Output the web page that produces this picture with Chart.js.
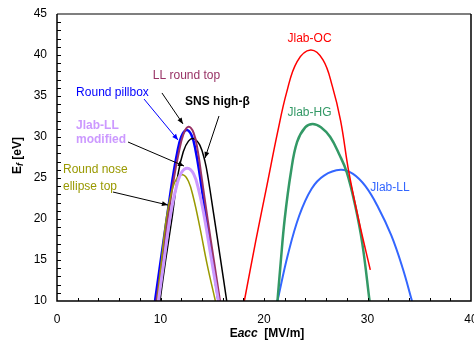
<!DOCTYPE html>
<html>
<head>
<meta charset="utf-8">
<script src="https://cdn.jsdelivr.net/npm/chart.js@4"></script>
<style>
html,body{margin:0;padding:0;background:#fff;}
#wrap{width:474px;height:344px;}
</style>
</head>
<body>
<div id="wrap"><canvas id="c" width="474" height="344"></canvas></div>
<script>
// ---- data (Eacc in MV/m, Ef in eV) ----
const pillboxE   = [9.47,10.03,10.6,11.18,11.6,12.0,12.5,13.0,13.4,13.8,14.42,15.0,15.6];
const pillboxEf  = [10,15,20,25,28,30,30.85,30.2,28.3,25.3,20,15,10];

const llRoundE   = [9.6,10.15,10.7,11.3,11.75,12.2,12.7,13.2,13.6,13.95,14.55,15.15,15.75];
const llRoundEf  = [10,15,20,25,28,30.3,31.25,30.5,28.3,25.3,20,15,10];

const snsE       = [9.95,10.5,11.1,11.7,12.2,12.7,13.2,13.8,14.3,14.6,15.15,15.75,16.4];
const snsEf      = [10,15,20,25.5,28.2,29.5,29.8,29.0,27,25,20.5,15.5,10];

const llModE     = [9.8,10.35,10.9,11.45,12.0,12.6,13.2,13.7,14.2,14.8,15.6];
const llModEf    = [10,15,20,23.5,25.6,26.2,25.5,23.5,20.5,16,10];

const roundNoseE  = [9.7,10.1,10.55,11.05,11.55,12.15,12.7,13.2,13.8,14.5,15.3];
const roundNoseEf = [10,15,20,23.2,24.9,25.4,24.6,22.5,19,14.5,10];

const jlabOcE    = [18.1,19.2,20.3,21.3,22.2,23.2,24.5,25.7,26.6,27.4,28.2,29.2,30.27];
const jlabOcEf   = [10,17.3,24.2,30.5,35.5,39.2,40.6,39.4,36.2,32.0,25.7,19.6,13.8];

const jlabHgE    = [21.3,21.6,22.0,22.6,23.2,24.0,24.7,25.5,26.4,27.3,28.0,28.8,29.5,30.2];
const jlabHgEf   = [10,14.5,20.0,25.7,29.4,31.2,31.6,31.2,30.0,27.8,25.7,21.7,17.0,10];

const jlabLlE    = [21.3,22.3,23.4,24.6,25.8,27.4,28.6,29.8,31.0,32.3,33.4,34.3];
const jlabLlEf   = [10,15.6,20.4,23.7,25.3,26.0,25.5,24.0,21.5,18.0,14.0,10];

const xTicks = [0,10,20,30,40];
const yTicks = [10,15,20,25,30,35,40,45];

// ---- helpers ----
const FONT = "'Liberation Sans', Arial, sans-serif";
function pts(xs, ys){ return xs.map((x,i)=>({x:x, y:ys[i]})); }
function ds(label, xs, ys, color, width){
  return {label, data: pts(xs,ys), borderColor: color, backgroundColor: color,
    borderWidth: width, showLine: true, pointRadius: 0, fill: false, tension: 0.4};
}

const datasets = [
  ds('Jlab-LL modified', llModE, llModEf, '#cc99ff', 3),
  ds('Round nose ellipse top', roundNoseE, roundNoseEf, '#999900', 1.5),
  ds('LL round top', llRoundE, llRoundEf, '#993366', 2),
  ds('SNS high-β', snsE, snsEf, '#000000', 1.5),
  ds('Round pillbox', pillboxE, pillboxEf, '#0000ff', 2.5),
  ds('Jlab-OC', jlabOcE, jlabOcEf, '#ff0000', 1.5),
  ds('Jlab-HG', jlabHgE, jlabHgEf, '#339966', 2.5),
  ds('Jlab-LL', jlabLlE, jlabLlEf, '#3366ff', 2)
];

// annotations in data coordinates
const texts = [
  {t:'LL round top', x:12.51, y:37.44, c:'#993366', align:'center'},
  {t:'Round pillbox', x:5.36, y:35.37, c:'#0000ff', align:'center'},
  {t:'SNS high-β', x:15.5, y:34.27, c:'#000000', align:'center', bold:true},
  {t:'Jlab-LL', x:1.84, y:31.34, c:'#cc99ff', align:'left', bold:true},
  {t:'modified', x:1.84, y:29.63, c:'#cc99ff', align:'left', bold:true},
  {t:'Round nose', x:0.58, y:25.98, c:'#999900', align:'left'},
  {t:'ellipse top', x:0.58, y:23.9, c:'#999900', align:'left'},
  {t:'Jlab-OC', x:24.4, y:41.95, c:'#ff0000', align:'center'},
  {t:'Jlab-HG', x:24.4, y:32.93, c:'#339966', align:'center'},
  {t:'Jlab-LL', x:32.17, y:23.78, c:'#3366ff', align:'center'}
];
const arrows = [
  {x1:10.14, y1:35.37, x2:12.17, y2:31.6, c:'#000000'},
  {x1:8.41, y1:34.63, x2:11.69, y2:29.63, c:'#0000ff'},
  {x1:15.65, y1:32.56, x2:14.3, y2:27.44, c:'#000000'},
  {x1:6.86, y1:29.39, x2:12.27, y2:26.46, c:'#000000'},
  {x1:5.41, y1:23.29, x2:10.72, y2:21.7, c:'#000000'}
];

const decor = {
  id: 'decor',
  afterDatasetsDraw(chart){
    const ctx = chart.ctx, xs = chart.scales.x, ys = chart.scales.y;
    ctx.save();
    arrows.forEach(r=>{
      const x1 = xs.getPixelForValue(r.x1), y1 = ys.getPixelForValue(r.y1);
      const x2 = xs.getPixelForValue(r.x2), y2 = ys.getPixelForValue(r.y2);
      ctx.strokeStyle = r.c; ctx.fillStyle = r.c; ctx.lineWidth = 1;
      ctx.beginPath(); ctx.moveTo(x1,y1); ctx.lineTo(x2,y2); ctx.stroke();
      const ang = Math.atan2(y2-y1, x2-x1), L = 6, W = 2.5;
      ctx.beginPath();
      ctx.moveTo(x2,y2);
      ctx.lineTo(x2 - L*Math.cos(ang) + W*Math.sin(ang), y2 - L*Math.sin(ang) - W*Math.cos(ang));
      ctx.lineTo(x2 - L*Math.cos(ang) - W*Math.sin(ang), y2 - L*Math.sin(ang) + W*Math.cos(ang));
      ctx.closePath(); ctx.fill();
    });
    ctx.textBaseline = 'middle';
    texts.forEach(t=>{
      ctx.font = (t.bold ? 'bold ' : '') + '12px ' + FONT;
      ctx.fillStyle = t.c; ctx.textAlign = t.align;
      ctx.fillText(t.t, xs.getPixelForValue(t.x), ys.getPixelForValue(t.y));
    });
    ctx.restore();
  },
  afterDraw(chart){
    const ctx = chart.ctx, xs = chart.scales.x, ys = chart.scales.y, a = chart.chartArea;
    ctx.save();
    ctx.lineWidth = 1.5;
    ctx.strokeStyle = '#555555';
    ctx.beginPath(); ctx.moveTo(a.left, a.top); ctx.lineTo(a.right, a.top); ctx.stroke();
    ctx.strokeStyle = '#000000';
    ctx.beginPath();
    ctx.moveTo(a.right, a.top); ctx.lineTo(a.right, a.bottom); ctx.lineTo(a.left, a.bottom); ctx.lineTo(a.left, a.top);
    ctx.stroke();
    ctx.lineWidth = 1; ctx.strokeStyle = '#000000';
    for (let v = 2; v < 40; v += 2){
      const p = Math.round(xs.getPixelForValue(v)) + 0.5;
      ctx.beginPath(); ctx.moveTo(p, a.bottom); ctx.lineTo(p, a.bottom - 3); ctx.stroke();
    }
    for (let v = 11; v < 45; v += 1){
      const p = Math.round(ys.getPixelForValue(v)) + 0.5;
      ctx.beginPath(); ctx.moveTo(a.left, p); ctx.lineTo(a.left + 4, p); ctx.stroke();
    }
    // x title
    ctx.fillStyle = '#000'; ctx.textBaseline = 'middle'; ctx.textAlign = 'left';
    const f1 = 'bold 12px ' + FONT, f2 = 'italic bold 12px ' + FONT;
    const parts = [['E', f1], ['acc', f2], ['  [MV/m]', f1]];
    let w = 0; parts.forEach(p=>{ ctx.font = p[1]; w += ctx.measureText(p[0]).width; });
    let x = (a.left + a.right)/2 - w/2 + 3; const y = 334;
    parts.forEach(p=>{ ctx.font = p[1]; ctx.fillText(p[0], x, y); x += ctx.measureText(p[0]).width; });
    // y title
    ctx.translate(18, (a.top + a.bottom)/2 - 2);
    ctx.rotate(-Math.PI/2);
    const q = [['E', 'bold 12px ' + FONT, 0], ['f', 'italic bold 9px ' + FONT, 3], [' [eV]', 'bold 12px ' + FONT, 0]];
    let qw = 0; q.forEach(p=>{ ctx.font = p[1]; qw += ctx.measureText(p[0]).width; });
    let qx = -qw/2;
    q.forEach(p=>{ ctx.font = p[1]; ctx.fillText(p[0], qx, p[2]); qx += ctx.measureText(p[0]).width; });
    ctx.restore();
  }
};

new Chart(document.getElementById('c'), {
  type: 'scatter',
  data: { datasets },
  options: {
    responsive: false,
    animation: false,
    layout: { padding: { top: 14, right: 3, left: 0, bottom: 0 } },
    plugins: { legend: { display: false }, tooltip: { enabled: false } },
    scales: {
      x: {
        type: 'linear', min: 0, max: 40,
        afterBuildTicks(s){ s.ticks = xTicks.map(v=>({value:v})); },
        afterFit(s){ s.height = 43; s.paddingLeft = 0; s.paddingRight = 0; },
        grid: { display: false, drawTicks: false },
        border: { display: false },
        ticks: { padding: 11, color: '#000', font: { family: FONT, size: 12 }, maxRotation: 0, autoSkip: false }
      },
      y: {
        type: 'linear', min: 10, max: 45,
        afterBuildTicks(s){ s.ticks = yTicks.map(v=>({value:v})); },
        afterFit(s){ s.width = 57; s.paddingTop = 0; s.paddingBottom = 0; },
        grid: { display: false, drawTicks: false },
        border: { display: false },
        ticks: { padding: 10, color: '#000', font: { family: FONT, size: 12 }, autoSkip: false }
      }
    }
  },
  plugins: [decor]
});
</script>
</body>
</html>
